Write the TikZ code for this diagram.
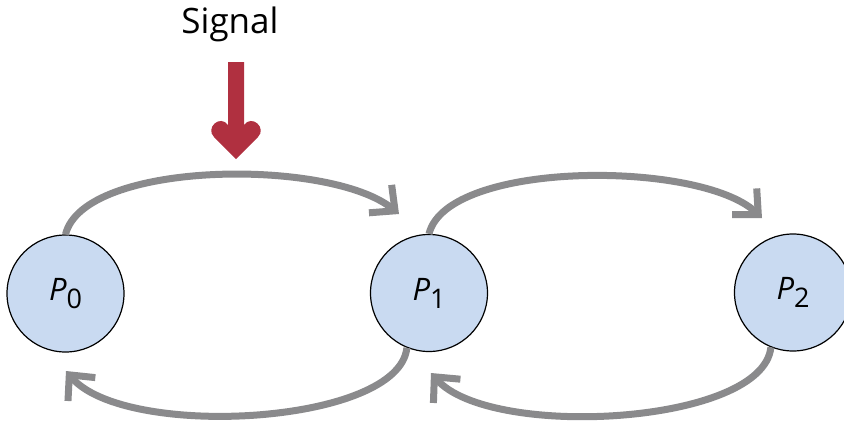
\documentclass[tikz,border=0pt]{standalone}
\usepackage{fontspec}
\setmainfont{Open Sans}
\usetikzlibrary{arrows.meta}
\definecolor{circfill}{RGB}{201,218,241}
\definecolor{arcgray}{RGB}{138,138,140}
\definecolor{sigred}{RGB}{176,48,64}
\newcommand\plab[1]{{\fontsize{31}{31}\selectfont\itshape P}\raisebox{-8pt}{\fontsize{27}{27}\selectfont #1}}
\tikzset{
  proc/.style={circle,draw=black,line width=1.2pt,fill=circfill,minimum size=117pt,inner sep=0pt},
  flow/.style={draw=arcgray,line width=7pt,-{Straight Barb[length=19pt,width=36pt,line width=7pt]}},
}
\begin{document}
\begin{tikzpicture}[x=1pt,y=-1pt]
\useasboundingbox (0,0) rectangle (844,424);
\node[proc] (p0) at (65.5,293.5) {\plab{0}};
\node[proc] (p1) at (429,293) {\plab{1}};
\node[proc] (p2) at (793,292.5) {\plab{2}};
\node (sig) at (230,24) {\fontsize{35}{40}\selectfont Signal};
\coordinate (t1) at (399,214);
\coordinate (t2) at (762,218);
\coordinate (b1) at (66,371);
\coordinate (b2) at (431,373);
\draw[flow] (p0.north) .. controls (84,160) and (330,158) .. (t1);
\draw[flow] (p1.north) .. controls (447,160) and (700,160) .. (t2);
\draw[flow] (p1.248) .. controls (399,425) and (125,440) .. (b1);
\draw[flow] (p2.248) .. controls (763,425) and (490,440) .. (b2);
\fill[sigred] (236,159) -- (214,137) .. controls (205,128) and (220,114) .. (228,125) -- (228,62) -- (244,62) -- (244,125) .. controls (252,114) and (267,128) .. (258,137) -- cycle;
\end{tikzpicture}
\end{document}
